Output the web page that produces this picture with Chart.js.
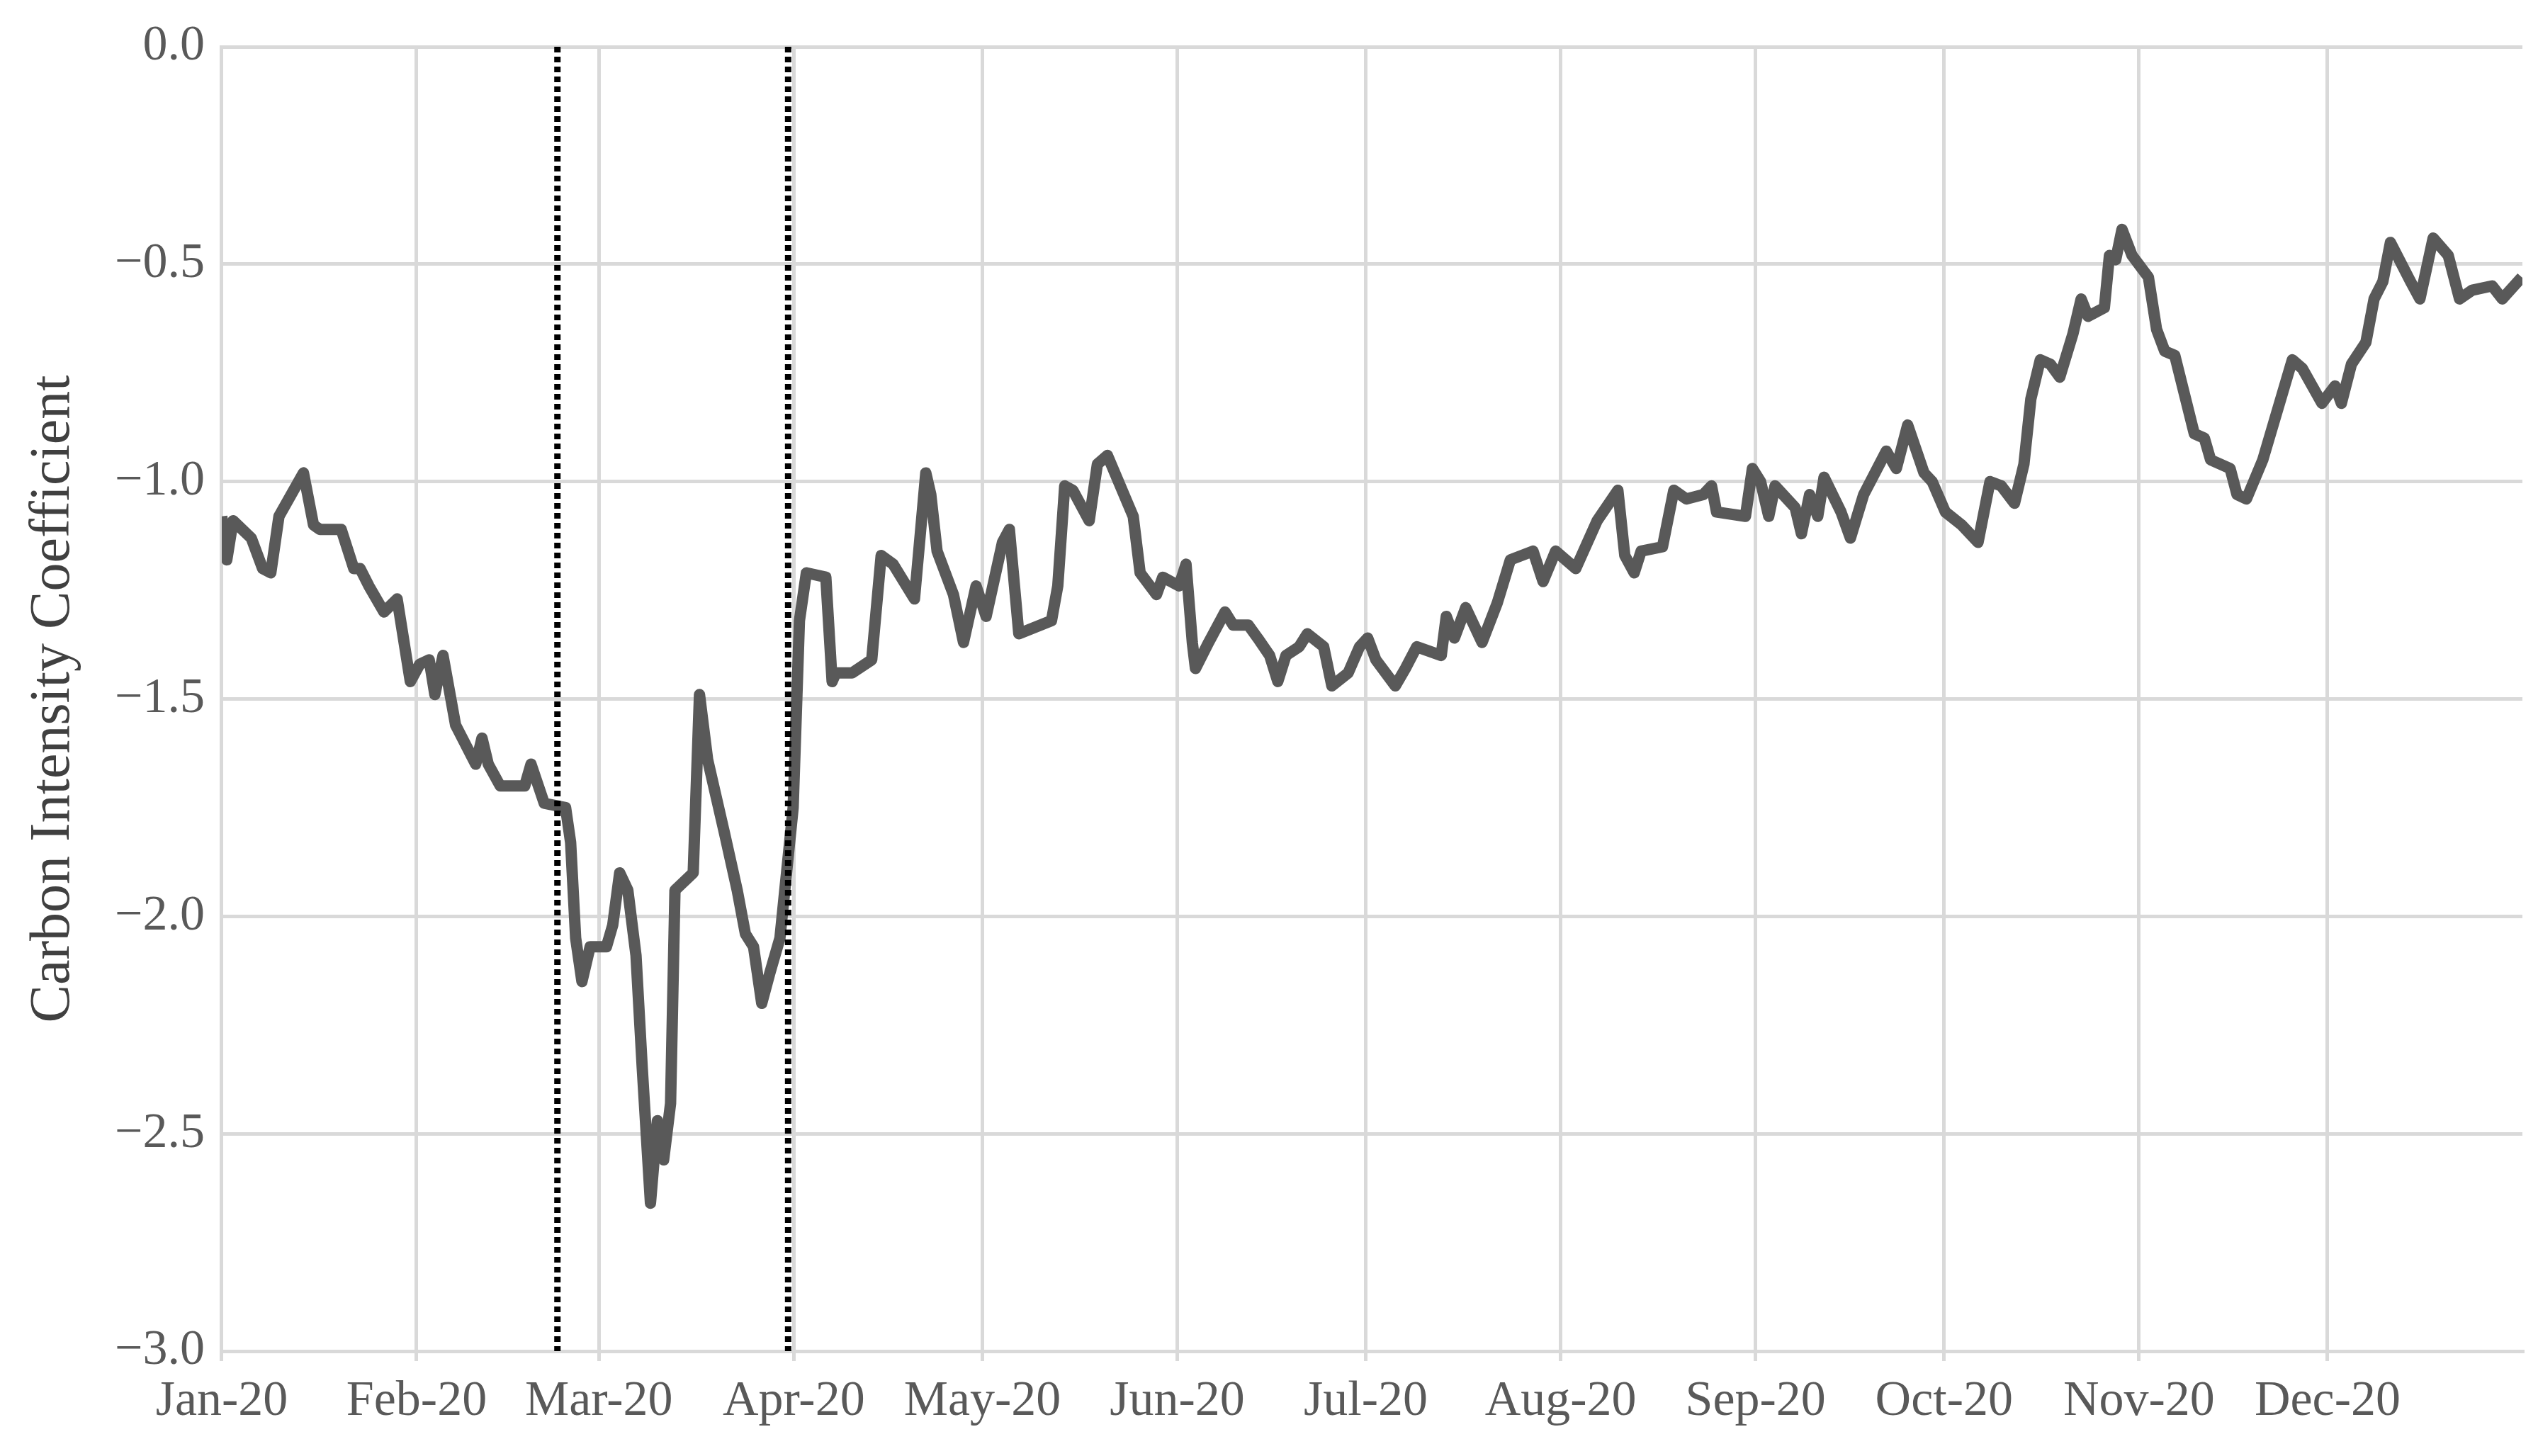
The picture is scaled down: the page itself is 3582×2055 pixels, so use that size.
<!DOCTYPE html>
<html>
<head>
<meta charset="utf-8">
<script src="https://cdn.jsdelivr.net/npm/chart.js@4"></script>
<style>
  html, body { margin: 0; padding: 0; background: #fff; }
  #wrap { width: 3582px; height: 2055px; }
</style>
</head>
<body>
<div id="wrap"><canvas id="chart"></canvas></div>
<script>
// day of year (2020) and coefficient
const days = [0,0.8,1.8,4.7,6.5,7.8,9.1,13,14.6,15.6,19,21,22,23.4,25.8,27.9,30,31.5,33,33.9,35.2,37.2,40.4,41.4,42.4,44.3,48.2,49.2,51.3,54.7,55.5,56.3,57.3,58.6,61.2,62.2,63.3,64.6,65.9,66.9,68.2,69.3,70.3,71.4,72.1,75,76,77.3,80,82,83.3,84.6,85.9,87.2,88.8,90.9,91.9,93,96.1,97.1,97.7,100.3,103.4,104.9,106.8,110.2,112,112.8,113.8,116.4,118,120,121.6,124.2,125.3,126.8,132,133,134.1,135.4,138,139.3,140.9,145,146.1,148.7,149.7,152.3,153.4,154.4,154.9,157,159.6,160.9,163.3,164.8,166.7,168,169.3,171.4,172.7,175.3,176.6,179.2,181,182.3,183.6,186.7,188.3,190.1,194,194.8,196.1,197.9,200.5,202.9,205,208.6,210.2,212.2,215.4,218.8,222.1,223.2,224.7,225.8,229.2,231,233,235.7,237,237.8,242.4,243.5,244.8,246.1,247.1,250.3,251.3,252.6,253.9,254.9,257.6,259.1,261.2,264.8,266.4,268.2,270.8,272.1,274.2,276.8,279.4,281.3,283.1,285.2,286.7,287.8,289.3,290.9,292.4,294.5,295.8,296.9,299.5,300.3,301.3,302.3,303.9,306.5,307.8,309.1,310.7,313.8,315.4,316.4,319.5,320.6,322.1,324.7,329.4,331,334.1,336.2,337.2,338.8,341.1,342.4,343.8,345,348.2,349.7,351.8,354.2,356,358,361.2,362.8,365.9];
const coef = [-1.08,-1.18,-1.09,-1.13,-1.20,-1.21,-1.08,-0.98,-1.10,-1.11,-1.11,-1.20,-1.20,-1.24,-1.30,-1.27,-1.46,-1.42,-1.41,-1.49,-1.40,-1.56,-1.65,-1.59,-1.65,-1.70,-1.70,-1.65,-1.74,-1.75,-1.83,-2.05,-2.15,-2.07,-2.07,-2.02,-1.90,-1.94,-2.09,-2.35,-2.66,-2.47,-2.56,-2.43,-1.94,-1.90,-1.49,-1.64,-1.81,-1.94,-2.04,-2.07,-2.20,-2.13,-2.05,-1.75,-1.32,-1.21,-1.22,-1.46,-1.44,-1.44,-1.41,-1.17,-1.19,-1.27,-0.98,-1.03,-1.16,-1.26,-1.37,-1.24,-1.31,-1.14,-1.11,-1.35,-1.32,-1.24,-1.01,-1.02,-1.09,-0.96,-0.94,-1.08,-1.21,-1.26,-1.22,-1.24,-1.19,-1.37,-1.43,-1.37,-1.30,-1.33,-1.33,-1.36,-1.40,-1.46,-1.40,-1.38,-1.35,-1.38,-1.47,-1.44,-1.38,-1.36,-1.41,-1.47,-1.43,-1.38,-1.40,-1.31,-1.36,-1.29,-1.37,-1.28,-1.18,-1.16,-1.23,-1.16,-1.20,-1.09,-1.02,-1.17,-1.21,-1.16,-1.15,-1.02,-1.04,-1.03,-1.01,-1.07,-1.08,-0.97,-1.00,-1.08,-1.01,-1.06,-1.12,-1.03,-1.08,-0.99,-1.07,-1.13,-1.03,-0.93,-0.97,-0.87,-0.98,-1.00,-1.07,-1.10,-1.14,-1.00,-1.01,-1.05,-0.96,-0.81,-0.72,-0.73,-0.76,-0.66,-0.58,-0.62,-0.60,-0.48,-0.49,-0.42,-0.48,-0.53,-0.65,-0.70,-0.71,-0.89,-0.90,-0.95,-0.97,-1.03,-1.04,-0.95,-0.72,-0.74,-0.82,-0.78,-0.82,-0.73,-0.68,-0.58,-0.54,-0.45,-0.54,-0.58,-0.44,-0.48,-0.58,-0.56,-0.55,-0.58,-0.53];
const monthDays = [0,31,60,91,121,152,182,213,244,274,305,335];
const monthLabels = ['Jan-20','Feb-20','Mar-20','Apr-20','May-20','Jun-20','Jul-20','Aug-20','Sep-20','Oct-20','Nov-20','Dec-20'];
const markerDays = [53.4, 90.1];

const font = 'Liberation Serif';
const series = days.map((d, i) => ({ x: d, y: coef[i] }));
const markerSets = markerDays.map(d => ({
  data: [{ x: d, y: 0 }, { x: d, y: -3 }],
  borderColor: '#000', borderWidth: 9, borderDash: [8, 6],
  pointRadius: 0, borderCapStyle: 'butt'
}));

new Chart(document.getElementById('chart'), {
  type: 'line',
  data: {
    datasets: [...markerSets, {
      data: series, borderColor: '#595959', borderWidth: 16,
      pointRadius: 0, tension: 0, borderJoinStyle: 'round'
    }]
  },
  options: {
    responsive: true, maintainAspectRatio: false, animation: false,
    layout: { padding: { top: 58, right: 22, bottom: 18, left: 14 } },
    plugins: { legend: { display: false }, tooltip: { enabled: false } },
    scales: {
      x: {
        type: 'linear', min: 0, max: 366,
        afterBuildTicks: axis => { axis.ticks = monthDays.map(v => ({ value: v })); },
        ticks: {
          autoSkip: false, maxRotation: 0, padding: 16,
          font: { family: font, size: 70 }, color: '#595959',
          callback: v => monthLabels[monthDays.indexOf(v)]
        },
        grid: { color: '#d9d9d9', lineWidth: 5, tickLength: 14 },
        border: { color: '#d9d9d9', width: 5 }
      },
      y: {
        min: -3, max: 0,
        ticks: {
          stepSize: 0.5, padding: 24,
          font: { family: font, size: 70 }, color: '#595959',
          callback: v => (v < 0 ? '\u2212' : '') + Math.abs(v).toFixed(1)
        },
        grid: { color: '#d9d9d9', lineWidth: 5, drawTicks: false },
        border: { color: '#d9d9d9', width: 5 },
        title: {
          display: true, text: 'Carbon Intensity Coefficient',
          font: { family: font, size: 80 }, color: '#404040', padding: 14
        }
      }
    }
  }
});
</script>
</body>
</html>
